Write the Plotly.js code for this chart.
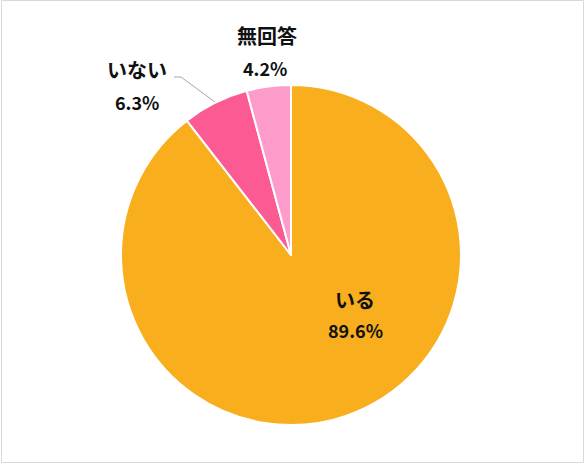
<!DOCTYPE html>
<html><head><meta charset="utf-8">
<script src="https://cdn.plot.ly/plotly-3.0.1.min.js"></script>
<style>html,body{margin:0;padding:0;background:#fff}#chart{width:585px;height:465px}</style>
</head><body><div id="chart"></div>
<script>
const labels = ['いる', 'いない', '無回答'];
const values = [89.6, 6.3, 4.2];
const colors = ['#F8AE1D', '#FB5A93', '#FD9CCB'];
const FONT = '"Noto Sans CJK JP", "Noto Sans", sans-serif';

const trace = {
  type: 'pie',
  labels: labels,
  values: values,
  sort: false,
  direction: 'clockwise',
  rotation: 0,
  marker: {colors: colors, line: {color: '#FFFFFF', width: 2}},
  textinfo: 'none',
  hoverinfo: 'label+percent',
  showlegend: false,
  domain: {x: [121/585, 461/585], y: [40/465, 380/465]}
};

const labFont = {family: FONT, size: 20, color: '#111111', weight: 'bold'};
const valFont = {family: FONT, size: 18, color: '#111111', weight: 'bold'};
const annPos = [
  {lx: 355, ly: 299, vx: 355, vy: 330},
  {lx: 137, ly: 69, vx: 137, vy: 102},
  {lx: 267, ly: 35, vx: 265, vy: 68}
];
const annotations = [];
labels.forEach((l, i) => {
  const p = annPos[i];
  annotations.push({text: '<b>' + l + '</b>', x: p.lx / 585, y: 1 - p.ly / 465, xref: 'paper', yref: 'paper', showarrow: false, font: labFont, xanchor: 'center', yanchor: 'middle'});
  annotations.push({text: '<b>' + values[i].toFixed(1) + '%</b>', x: p.vx / 585, y: 1 - p.vy / 465, xref: 'paper', yref: 'paper', showarrow: false, font: valFont, xanchor: 'center', yanchor: 'middle'});
});

const layout = {
  width: 585, height: 465,
  margin: {l: 0, r: 0, t: 0, b: 0},
  paper_bgcolor: '#FFFFFF',
  annotations: annotations,
  shapes: [
    {type: 'rect', xref: 'paper', yref: 'paper', x0: 1.5/585, x1: 583.5/585, y0: 1 - 462.5/465, y1: 1 - 0.5/465, line: {color: '#D9D9D9', width: 1}},
    {type: 'path', xref: 'paper', yref: 'paper',
     path: 'M ' + (174/585) + ' ' + (1 - 77/465) + ' L ' + (181/585) + ' ' + (1 - 77/465) + ' L ' + (215/585) + ' ' + (1 - 102/465),
     line: {color: '#A6A6A6', width: 1}}
  ]
};

Plotly.newPlot('chart', [trace], layout, {displayModeBar: false, staticPlot: true});
</script></body></html>
